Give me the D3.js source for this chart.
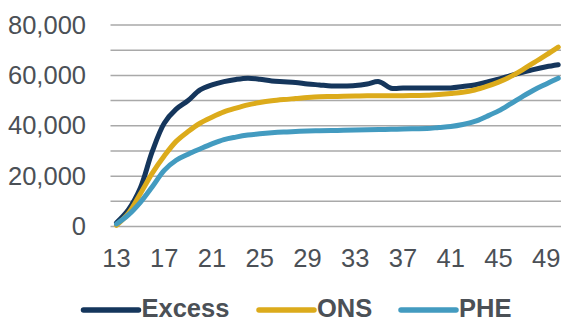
<!DOCTYPE html>
<html>
<head>
<meta charset="utf-8">
<script src="https://cdn.jsdelivr.net/npm/d3@7"></script>
<style>
  html, body { margin: 0; padding: 0; background: #ffffff; }
  svg { display: block; font-family: "Liberation Sans", Arial, sans-serif; }
</style>
</head>
<body>
<svg id="chart" width="561" height="323"></svg>
<script>
// Week numbers on the category axis
const weeks = d3.range(13, 51);
const weekTicks = [13, 17, 21, 25, 29, 33, 37, 41, 45, 49];
const yTicks = [0, 20000, 40000, 60000, 80000];
const yGrid = [0, 10000, 20000, 30000, 40000, 50000, 60000, 70000, 80000];

// Cumulative deaths by week
const excess = [1500, 6700, 15300, 29800, 41000, 46600, 50000, 54200, 56200, 57500,
  58400, 58900, 58500, 57800, 57500, 57200, 56600, 56200, 55800, 55800,
  56000, 56600, 57500, 54900, 55000, 55000, 55000, 55000, 55000, 55600,
  56200, 57300, 58500, 59900, 61200, 62400, 63400, 64200];
const ons = [500, 5200, 13000, 21200, 28000, 33800, 37700, 41000, 43400, 45500,
  47000, 48300, 49200, 49900, 50400, 50800, 51200, 51500, 51600, 51700,
  51800, 51900, 51900, 51900, 51900, 52000, 52100, 52400, 52800, 53300,
  54200, 55600, 57300, 59500, 62200, 65200, 68100, 71200];
const phe = [1000, 4600, 9600, 15800, 22300, 26300, 28700, 30800, 32800, 34500,
  35500, 36300, 36800, 37200, 37500, 37700, 37900, 38000, 38100, 38200,
  38300, 38400, 38500, 38600, 38700, 38800, 38900, 39300, 39700, 40500,
  41700, 43700, 45900, 48700, 51600, 54300, 56600, 58900];

const seriesNames = ["Excess", "ONS", "PHE"];
const seriesColors = ["#15365c", "#dcab1b", "#439bc0"];
const seriesValues = [excess, ons, phe];

const svg = d3.select("#chart");
const textColor = "#4b5056";

const x = d3.scaleBand()
  .domain(weeks)
  .range([110.5, 110.5 + weeks.length * 11.94]);
const y = d3.scaleLinear().domain([0, 80000]).range([226.5, 25]);
const cx = w => x(w) + x.bandwidth() / 2;

// Horizontal gridlines
svg.append("g").selectAll("line")
  .data(yGrid)
  .join("line")
  .attr("x1", 110.5).attr("x2", 561)
  .attr("y1", d => y(d)).attr("y2", d => y(d))
  .attr("stroke", "#a9a9a9")
  .attr("stroke-width", 1.5);

// Value axis labels
const yAxis = svg.append("g")
  .attr("transform", "translate(86,0)")
  .call(d3.axisLeft(y).tickValues(yTicks).tickFormat(d3.format(",")).tickSize(0).tickPadding(0));
yAxis.select(".domain").remove();
yAxis.selectAll("text")
  .attr("fill", textColor)
  .style("font-size", "25.5px")
  .style("font-family", "'Liberation Sans', Arial, sans-serif");

// Week axis labels
const xAxis = svg.append("g")
  .attr("transform", "translate(0,249)")
  .call(d3.axisBottom(x).tickValues(weekTicks).tickSize(0).tickPadding(0));
xAxis.select(".domain").remove();
xAxis.selectAll("text")
  .attr("fill", textColor)
  .attr("dy", "0.71em")
  .style("font-size", "25.5px")
  .style("font-family", "'Liberation Sans', Arial, sans-serif");

// Series lines
const line = d3.line()
  .x((d, i) => cx(weeks[i]))
  .y(d => y(d))
  .curve(d3.curveCatmullRom.alpha(0.5));

svg.append("g").selectAll("path")
  .data(seriesValues)
  .join("path")
  .attr("d", d => line(d))
  .attr("fill", "none")
  .attr("stroke", (d, i) => seriesColors[i])
  .attr("stroke-width", 5)
  .attr("stroke-linejoin", "round")
  .attr("stroke-linecap", "round");

// Legend
const legendX = [83.5, 259, 401];
const legend = svg.append("g").selectAll("g")
  .data(seriesNames)
  .join("g")
  .attr("transform", (d, i) => `translate(${legendX[i]},310)`);
legend.append("line")
  .attr("x1", 0).attr("x2", 55)
  .attr("stroke", (d, i) => seriesColors[i])
  .attr("stroke-width", 5.5)
  .attr("stroke-linecap", "round");
legend.append("text")
  .attr("x", 58)
  .attr("y", 7)
  .attr("fill", textColor)
  .style("font-size", "25.5px")
  .style("font-weight", "bold")
  .text(d => d);
</script>
</body>
</html>
